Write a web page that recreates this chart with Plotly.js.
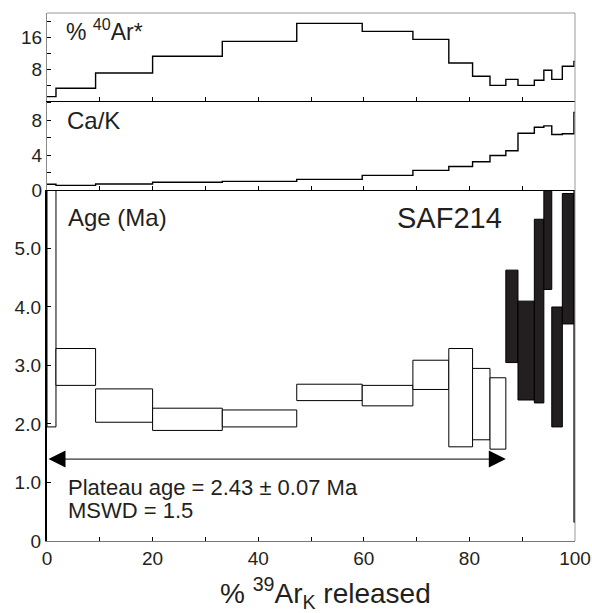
<!DOCTYPE html>
<html><head><meta charset="utf-8">
<script src="https://cdn.plot.ly/plotly-3.0.1.min.js"></script>
<style>html,body{margin:0;padding:0;background:#fff}</style>
</head><body><div id="chart" style="width:592px;height:613px"></div>
<script>
// Step boundaries in cumulative % 39ArK released
const stepEdges = [0, 1.7, 9.2, 20.0, 33.2, 47.3, 59.7, 69.3, 76.1, 80.6, 83.9, 86.9, 89.2, 92.3, 94.1, 95.6, 97.6, 99.8, 100];
// % 40Ar* per step
const radiogenicAr = [1.1, 3.2, 7.0, 11.2, 14.9, 19.4, 17.4, 15.4, 9.5, 6.2, 3.9, 5.4, 3.9, 5.2, 7.7, 5.4, 8.7, 9.9];
// Ca/K per step
const caK = [0.65, 0.53, 0.69, 0.88, 0.99, 1.22, 1.68, 2.25, 2.7, 3.23, 3.96, 4.5, 6.5, 7.2, 7.35, 6.36, 6.44, 8.9];
// Age (Ma) error boxes per step: lower / upper bounds
const ageLow  = [1.95, 2.66, 2.03, 1.89, 1.95, 2.40, 2.31, 2.59, 1.61, 1.73, 1.57, 3.05, 2.41, 2.36, 4.30, 1.95, 3.71, 0.32];
const ageHigh = [6.3, 3.29, 2.60, 2.27, 2.24, 2.68, 2.66, 3.09, 3.29, 2.95, 2.79, 4.63, 4.10, 5.50, 6.3, 4.00, 5.94, 6.3];
// steps included in the plateau
const inPlateau = [true, true, true, true, true, true, true, true, true, true, true, false, false, false, false, false, false, false];
const plateauStart = 0, plateauEnd = 86.9, plateauArrowY = 1.4;
const plateauText = "Plateau age = 2.43 ± 0.07 Ma";
const mswdText = "MSWD = 1.5";
const sampleName = "SAF214";
const xTickVals = [0, 20, 40, 60, 80, 100];
const ageTickVals = [0, 1, 2, 3, 4, 5];
const ageTickText = ["0", "1.0", "2.0", "3.0", "4.0", "5.0"];
const caKTickVals = [0, 4, 8];
const arTickVals = [8, 16];

const FONT = "Arial, 'Liberation Sans', sans-serif";
const TXT = "#231f20";

function stepXY(vals) {
  const xs = stepEdges.slice();
  const ys = vals.concat([vals[vals.length - 1]]);
  return {x: xs, y: ys};
}
function boxes(flag) {
  const x = [], w = [], b = [], h = [];
  for (let i = 0; i < ageLow.length; i++) {
    if (inPlateau[i] !== flag) continue;
    x.push((stepEdges[i] + stepEdges[i + 1]) / 2);
    w.push(stepEdges[i + 1] - stepEdges[i]);
    b.push(ageLow[i]);
    h.push(ageHigh[i] - ageLow[i]);
  }
  return {x, w, b, h};
}
const ar = stepXY(radiogenicAr);
const ck = stepXY(caK);
const bw = boxes(true), bb = boxes(false);

const traces = [
  {type: 'scatter', mode: 'lines', x: ar.x, y: ar.y, xaxis: 'x3', yaxis: 'y3',
   line: {shape: 'hv', color: '#000', width: 1.4}, hoverinfo: 'skip'},
  {type: 'scatter', mode: 'lines', x: ck.x, y: ck.y, xaxis: 'x2', yaxis: 'y2',
   line: {shape: 'hv', color: '#000', width: 1.4}, hoverinfo: 'skip'},
  {type: 'bar', x: bw.x, width: bw.w, base: bw.b, y: bw.h, xaxis: 'x', yaxis: 'y',
   marker: {color: '#ffffff', line: {color: '#000', width: 1}}},
  {type: 'bar', x: bb.x, width: bb.w, base: bb.b, y: bb.h, xaxis: 'x', yaxis: 'y',
   marker: {color: '#231f20', line: {color: '#000', width: 1}}}
];

const dMain = [0, 0.6648], dCa = [0.6648, 0.8333], dAr = [0.8333, 1];
const tickFont = {family: FONT, size: 19, color: TXT};
const minorX = {tick0: 0, dtick: 10, ticks: 'inside', ticklen: 4, tickcolor: '#000'};
const baseX = {range: [0, 100], showgrid: false, zeroline: false, tickvals: xTickVals,
  ticks: 'inside', ticklen: 4, tickcolor: '#000', showline: true, minor: minorX};

const layout = {
  width: 592, height: 613,
  margin: {l: 47, r: 17, t: 13, b: 72},
  paper_bgcolor: '#fff', plot_bgcolor: '#fff',
  showlegend: false, barmode: 'overlay', bargap: 0,
  font: {family: FONT, color: TXT},
  xaxis: Object.assign({}, baseX, {anchor: 'y', tickfont: tickFont,
    linecolor: '#777', linewidth: 1}),
  xaxis2: Object.assign({}, baseX, {anchor: 'y2', showticklabels: false, linecolor: '#000', linewidth: 1}),
  xaxis3: Object.assign({}, baseX, {anchor: 'y3', showticklabels: false, linecolor: '#000', linewidth: 1}),
  yaxis: {domain: dMain, range: [0, 6], anchor: 'x', showgrid: false, zeroline: false,
    tickvals: ageTickVals, ticktext: ageTickText, ticks: 'inside', ticklen: 4, tickcolor: '#000',
    tickfont: tickFont, showline: true, linecolor: '#000', linewidth: 2.2},
  yaxis2: {domain: dCa, range: [0, 10.2], anchor: 'x2', showgrid: false, zeroline: false,
    tickvals: caKTickVals, ticks: 'inside', ticklen: 4, tickcolor: '#000',
    minor: {tick0: 0, dtick: 2, ticks: 'inside', ticklen: 4, tickcolor: '#000'},
    tickfont: tickFont, showline: true, linecolor: '#888', linewidth: 1},
  yaxis3: {domain: dAr, range: [0, 22], anchor: 'x3', showgrid: false, zeroline: false,
    tickvals: arTickVals, ticks: 'inside', ticklen: 4, tickcolor: '#000',
    minor: {tick0: 0, dtick: 4, ticks: 'inside', ticklen: 4, tickcolor: '#000'},
    tickfont: tickFont, showline: true, linecolor: '#888', linewidth: 1},
  shapes: [
    {type: 'line', xref: 'paper', yref: 'paper', x0: 1, x1: 1, y0: 0, y1: 1, line: {color: '#999', width: 1}},
    {type: 'line', xref: 'paper', yref: 'paper', x0: 0, x1: 1, y0: 1, y1: 1, line: {color: '#999', width: 1}}
  ],
  annotations: [
    {xref: 'paper', yref: 'paper', x: 0.527, y: -0.098, xanchor: 'center', yanchor: 'middle', showarrow: false,
     text: '% <sup>39</sup>Ar<sub>K</sub> released', font: {family: FONT, size: 28, color: TXT}},
    {xref: 'paper', yref: 'paper', x: 0.032, y: 0.968, xanchor: 'left', yanchor: 'middle', showarrow: false,
     text: '% <sup>40</sup>Ar*', font: {family: FONT, size: 23, color: TXT}},
    {xref: 'paper', yref: 'paper', x: 0.034, y: 0.797, xanchor: 'left', yanchor: 'middle', showarrow: false,
     text: 'Ca/K', font: {family: FONT, size: 24, color: TXT}},
    {xref: 'paper', yref: 'paper', x: 0.036, y: 0.612, xanchor: 'left', yanchor: 'middle', showarrow: false,
     text: 'Age (Ma)', font: {family: FONT, size: 24, color: TXT}},
    {xref: 'paper', yref: 'paper', x: 0.66, y: 0.612, xanchor: 'left', yanchor: 'middle', showarrow: false,
     text: sampleName, font: {family: FONT, size: 29, color: TXT}},
    {xref: 'paper', yref: 'paper', x: 0.036, y: 0.102, xanchor: 'left', yanchor: 'middle', showarrow: false,
     text: plateauText, font: {family: FONT, size: 22, color: TXT}},
    {xref: 'paper', yref: 'paper', x: 0.036, y: 0.0587, xanchor: 'left', yanchor: 'middle', showarrow: false,
     text: mswdText, font: {family: FONT, size: 22, color: TXT}},
    {xref: 'x', yref: 'y', axref: 'x', ayref: 'y', x: plateauEnd, y: plateauArrowY, ax: plateauStart, ay: plateauArrowY,
     text: '', showarrow: true, arrowside: 'end+start', arrowhead: 2, startarrowhead: 2,
     arrowsize: 3.4, startarrowsize: 3.4, arrowwidth: 1, arrowcolor: '#000', standoff: 0, startstandoff: 0}
  ]
};

Plotly.newPlot('chart', traces, layout, {staticPlot: true, displayModeBar: false});
</script>
</body></html>
